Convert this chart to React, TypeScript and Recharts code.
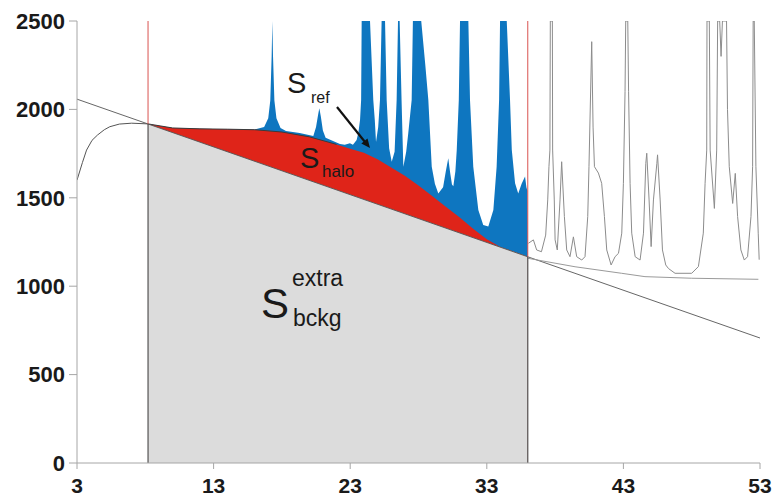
import React from "react";
import {
  ComposedChart,
  Area,
  Line,
  XAxis,
  YAxis,
  ReferenceLine,
} from "recharts";

// axis ticks
const xTicks = [3, 13, 23, 33, 43, 53];
const yTicks = [0, 500, 1000, 1500, 2000, 2500];

// integration window (red markers)
const windowStart = 8.2;
const windowEnd = 36;

// straight background line over the whole scan
const backgroundLine: [number, number][] = [
  [3, 2058],
  [53, 707],
];

// background inside the window (grey area)
const backgroundWindow: [number, number][] = [
  [8.2, 1918],
  [36, 1167],
];

// amorphous halo (top of red area)
const haloCurve: [number, number][] = [
  [8.2, 1918], [10, 1895], [12, 1890], [14, 1888], [16, 1885], [18, 1872],
  [20, 1845], [22, 1802], [23, 1778], [24, 1755], [25, 1718], [26, 1672],
  [27, 1625], [28, 1570], [29, 1510], [30, 1450], [31, 1390], [32, 1325],
  [33, 1265], [34, 1222], [35, 1195], [36, 1167],
];

// scan before the window
const leftScan: [number, number][] = [
  [3, 1600], [3.4, 1700], [3.7, 1770], [4.1, 1825], [4.5, 1855], [5.0, 1885],
  [5.4, 1902], [6.1, 1917], [7.0, 1922], [8.2, 1918],
];

// scan inside the window (blue area top)
const peakScan: [number, number][] = [
  [8.2, 1918], [10, 1895], [12, 1890], [14, 1888], [16, 1886], [16.7, 1900],
  [17.0, 1950], [17.15, 2050], [17.25, 2300], [17.3, 2500], [17.35, 2300],
  [17.45, 2050], [17.6, 1950], [17.9, 1895], [18.3, 1878], [19.3, 1866],
  [20.3, 1850], [20.5, 1900], [20.65, 1970], [20.74, 2006], [20.85, 1960],
  [21.0, 1880], [21.2, 1840], [21.7, 1822], [22.25, 1805], [22.6, 1800],
  [22.98, 1808], [23.2, 1800], [23.47, 1827], [23.6, 1870], [23.72, 1940],
  [23.8, 2053], [23.84, 2500], [24.45, 2500], [24.69, 2053], [24.8, 1940],
  [24.89, 1815], [25.05, 1900], [25.18, 2053], [25.3, 2500], [25.55, 2500],
  [25.67, 2053], [25.85, 1780], [26.04, 1704], [26.25, 1760], [26.4, 2053],
  [26.5, 2500], [26.62, 2500], [26.76, 2053], [26.89, 1676], [27.1, 1760],
  [27.25, 1865], [27.5, 2053], [27.59, 2500], [28.2, 2500], [28.5, 2250],
  [28.72, 2053], [28.97, 1676], [29.2, 1580], [29.45, 1525], [29.8, 1560],
  [30.0, 1650], [30.18, 1723], [30.32, 1640], [30.45, 1575], [30.55, 1566],
  [30.7, 1650], [30.8, 1770], [30.95, 2053], [31.04, 2500], [31.65, 2500],
  [31.77, 2053], [32.01, 1676], [32.38, 1431], [32.74, 1346], [33.11, 1337],
  [33.48, 1431], [33.72, 1676], [33.9, 2053], [33.97, 2500], [34.46, 2500],
  [34.7, 2053], [34.83, 1770], [35.07, 1582], [35.3, 1525], [35.55, 1580],
  [35.8, 1621], [35.9, 1560], [35.97, 1540], [36, 1250],
];

// scan after the window
const rightScan: [number, number][] = [
  [36.05, 1243], [36.41, 1262], [36.65, 1205], [37.0, 1195], [37.31, 1289],
  [37.46, 1488], [37.55, 1676], [37.62, 1770], [37.65, 2500], [37.8, 2500],
  [37.82, 1770], [37.94, 1488], [38.0, 1262], [38.16, 1205], [38.36, 1488],
  [38.48, 1704], [38.68, 1394], [38.85, 1205], [39.09, 1167], [39.34, 1279],
  [39.58, 1167], [39.95, 1148], [40.19, 1167], [40.39, 1394], [40.48, 1676],
  [40.68, 2383], [40.78, 1900], [40.88, 1676], [41.17, 1640], [41.41, 1582],
  [41.61, 1394], [41.78, 1205], [42.1, 1120], [42.39, 1167], [42.64, 1186],
  [42.88, 1300], [43.0, 1582], [43.12, 2100], [43.17, 2500], [43.32, 2500],
  [43.38, 2100], [43.49, 1582], [43.61, 1300], [43.86, 1167], [44.22, 1148],
  [44.47, 1300], [44.64, 1695], [44.71, 1752], [44.88, 1488], [45.03, 1224],
  [45.2, 1488], [45.45, 1695], [45.5, 1743], [45.69, 1488], [45.86, 1205],
  [46.1, 1120], [46.3, 1100], [46.78, 1073], [48.0, 1073], [48.49, 1111],
  [48.85, 1300], [48.98, 1582], [49.1, 1770], [49.12, 2500], [49.29, 2500],
  [49.35, 1770], [49.66, 1440], [49.83, 1770], [49.9, 2500], [50.05, 2500],
  [50.15, 2300], [50.25, 2500], [50.55, 2500], [50.62, 2000], [50.75, 1676],
  [51.0, 1468], [51.19, 1638], [51.36, 1394], [51.6, 1205], [51.85, 1148],
  [52.09, 1167], [52.34, 1394], [52.46, 1676], [52.5, 2500], [52.58, 2500],
  [52.7, 1676], [52.87, 1300], [52.94, 1150],
];

// lower envelope after the window
const rightEnvelope: [number, number][] = [
  [36, 1158], [39.46, 1110], [42.87, 1073], [44.58, 1054], [48, 1045],
  [52.88, 1039],
];

const pts = (pairs: [number, number][]) => pairs.map(([x, y]) => ({ x, y }));

const font = "'Liberation Sans', Arial, sans-serif";
const yTickStyle = { fontSize: 22, fontWeight: 700, fill: "#1a1a1a", fontFamily: font };
const xTickStyle = { fontSize: 21, fontWeight: 700, fill: "#1a1a1a", fontFamily: font };

export default function App() {
  const haloTop = haloCurve.filter(([x]) => x <= 22);
  const bgStart = backgroundWindow[0][1];
  const bgEnd = backgroundWindow[1][1];

  return (
    <div style={{ position: "absolute", left: 0, top: 0, width: 778, height: 498, background: "#fff" }}>
      <ComposedChart width={778} height={498} margin={{ top: 21, right: 18, left: 7, bottom: 0 }}>
        <XAxis
          type="number"
          dataKey="x"
          domain={[3, 53]}
          ticks={xTicks}
          interval={0}
          allowDataOverflow
          height={35}
          stroke="#a6a6a6"
          tickSize={6}
          tickMargin={9}
          tick={xTickStyle}
        />
        <YAxis
          type="number"
          dataKey="y"
          domain={[0, 2500]}
          ticks={yTicks}
          interval={0}
          allowDataOverflow
          width={70}
          stroke="#a6a6a6"
          tickSize={8}
          tickMargin={4}
          tick={yTickStyle}
        />

        <Area data={pts(peakScan)} dataKey="y" type="linear" fill="#0e76c0" fillOpacity={1} stroke="none" isAnimationActive={false} />
        <Area data={pts(haloCurve)} dataKey="y" type="linear" fill="#df2419" fillOpacity={1} stroke="none" isAnimationActive={false} />
        <Area data={pts(backgroundWindow)} dataKey="y" type="linear" fill="#dcdcdc" fillOpacity={1} stroke="none" isAnimationActive={false} />

        <Line data={pts(haloTop)} dataKey="y" type="linear" stroke="#3a3a3a" strokeWidth={1} dot={false} isAnimationActive={false} />
        <Line data={pts(backgroundLine)} dataKey="y" type="linear" stroke="#555" strokeWidth={0.9} dot={false} isAnimationActive={false} />
        <Line data={pts(leftScan)} dataKey="y" type="linear" stroke="#555" strokeWidth={1} dot={false} isAnimationActive={false} />
        <Line data={pts(rightScan)} dataKey="y" type="linear" stroke="#8c8c8c" strokeWidth={1} dot={false} isAnimationActive={false} />
        <Line data={pts(rightEnvelope)} dataKey="y" type="linear" stroke="#9a9a9a" strokeWidth={1} dot={false} isAnimationActive={false} />

        <ReferenceLine segment={[{ x: windowStart, y: bgStart }, { x: windowStart, y: 2500 }]} stroke="#d9534f" strokeWidth={1} />
        <ReferenceLine segment={[{ x: windowEnd, y: bgEnd }, { x: windowEnd, y: 2500 }]} stroke="#d9534f" strokeWidth={1} />
        <ReferenceLine segment={[{ x: windowStart, y: 0 }, { x: windowStart, y: bgStart }]} stroke="#555" strokeWidth={1.2} />
        <ReferenceLine segment={[{ x: windowEnd, y: 0 }, { x: windowEnd, y: bgEnd }]} stroke="#555" strokeWidth={1.2} />
      </ComposedChart>

      <svg width={778} height={498} style={{ position: "absolute", left: 0, top: 0, pointerEvents: "none" }}>
        <g fontFamily={font} fill="#1a1a1a">
          <text x={287} y={93} fontSize={29}>S</text>
          <text x={311} y={103} fontSize={16}>ref</text>
          <text x={300} y={168} fontSize={29}>S</text>
          <text x={322} y={177} fontSize={17}>halo</text>
          <text x={261} y={318} fontSize={42}>S</text>
          <text x={292} y={286} fontSize={23}>extra</text>
          <text x={293} y={326} fontSize={23}>bckg</text>
        </g>
        <line x1={337} y1={107} x2={365} y2={142} stroke="#111" strokeWidth={2.2} />
        <polygon points="370,148 361.3,143.5 367.5,138.5" fill="#111" />
      </svg>
    </div>
  );
}
